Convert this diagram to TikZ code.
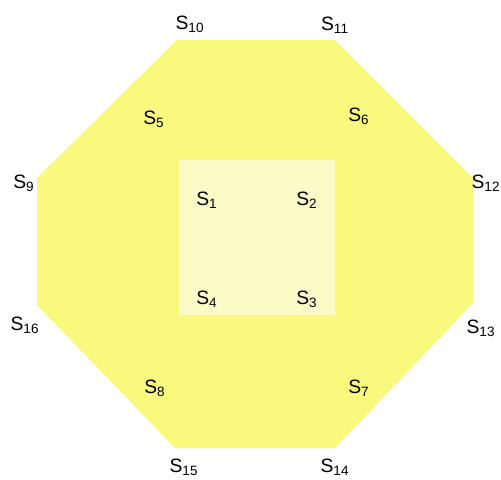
\documentclass[tikz,border=0pt]{standalone}
\usepackage{fontspec}
\setmainfont{Liberation Sans}
\usepackage{xcolor}
\definecolor{octyellow}{RGB}{249,249,125}
\definecolor{sqyellow}{RGB}{251,251,200}

\begin{document}
\begin{tikzpicture}[x=0.02cm,y=-0.02cm,
  lbl/.style={inner sep=0pt,font=\fontsize{11}{13}\selectfont}]
  \useasboundingbox (0,0) rectangle (501,480);
  % outer octagon
  \fill[octyellow] (177,40) -- (335,40) -- (473,178) -- (473,303)
    -- (335,448) -- (175,448) -- (37,305) -- (37,178) -- cycle;
  % inner square
  \fill[sqyellow] (179,160) rectangle (335,315);
  % labels of the square
  \node[lbl] (s1) at (207,200) {S\textsubscript{1}};
  \node[lbl] (s2) at (307,200) {S\textsubscript{2}};
  \node[lbl] (s3) at (307,299) {S\textsubscript{3}};
  \node[lbl] (s4) at (207,299) {S\textsubscript{4}};
  % middle ring
  \node[lbl] (s5) at (154,119) {S\textsubscript{5}};
  \node[lbl] (s6) at (359,116) {S\textsubscript{6}};
  \node[lbl] (s7) at (359,388) {S\textsubscript{7}};
  \node[lbl] (s8) at (155,388) {S\textsubscript{8}};
  % outer corners
  \node[lbl] (s9) at (24,183) {S\textsubscript{9}};
  \node[lbl] (s10) at (190,24) {S\textsubscript{10}};
  \node[lbl] (s11) at (335,25) {S\textsubscript{11}};
  \node[lbl] (s12) at (486,183) {S\textsubscript{12}};
  \node[lbl] (s13) at (481,328) {S\textsubscript{13}};
  \node[lbl] (s14) at (335,467) {S\textsubscript{14}};
  \node[lbl] (s15) at (184,467) {S\textsubscript{15}};
  \node[lbl] (s16) at (25,325) {S\textsubscript{16}};
\end{tikzpicture}
\end{document}
